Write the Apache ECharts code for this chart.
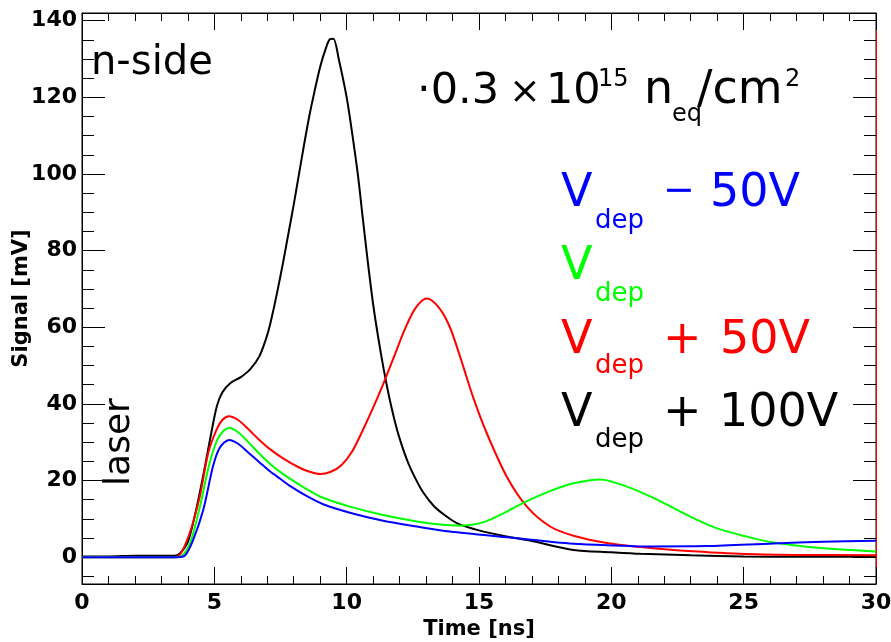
<!DOCTYPE html>
<html><head><meta charset="utf-8">
<script src="https://cdn.jsdelivr.net/npm/echarts@6/dist/echarts.min.js"></script>
<style>html,body{margin:0;padding:0;background:#fff}#c{width:891px;height:642px}</style>
</head><body><div id="c"></div>
<script>
// ---- data (time [ns], signal [mV]) ----
const xTicks = [0, 5, 10, 15, 20, 25, 30];
const yTicks = [0, 20, 40, 60, 80, 100, 120, 140];
const yMinorTicks = [-5, 5, 10, 15, 25, 30, 35, 45, 50, 55, 65, 70, 75, 85, 90, 95, 105, 110, 115, 125, 130, 135];

const vdepPlus100 = [[0,0.2],[1,0.2],[2,0.4],[3,0.4],[3.5,0.4],[3.7,1],[4.0,4],[4.3,12],[4.6,22],[4.9,33],[5.1,39.5],[5.3,43],[5.6,45.4],[6.0,47],[6.35,49],[6.7,52.4],[7.0,58],[7.2,63.5],[7.4,70],[7.6,77],[7.8,84.5],[8.0,92],[8.2,100],[8.4,108],[8.6,115.5],[8.8,122],[9.0,128],[9.2,132.5],[9.37,135.2],[9.5,135.3],[9.7,130],[10.0,120],[10.2,111],[10.42,100],[10.6,89],[10.8,77],[11.0,66],[11.2,57],[11.4,49],[11.6,42],[11.8,36],[12.0,31],[12.3,25],[12.6,20.5],[12.9,16.8],[13.3,13.3],[13.7,11],[14.16,8.9],[15,7],[16.05,5.4],[17,4.2],[18.57,1.9],[20,1.3],[21.1,0.9],[23,0.5],[25,0.2],[27,0.1],[30,0.1]];
const vdepPlus50 = [[0,0],[3.5,0],[3.7,0.6],[4.07,6.3],[4.45,15.8],[4.77,27.2],[5.08,33.2],[5.3,35.8],[5.55,36.8],[5.9,35.8],[6.3,33.3],[6.7,30.6],[7.1,28.2],[7.6,25.8],[8.2,23.4],[8.6,22.3],[9.0,21.7],[9.4,22.3],[9.8,24],[10.2,27.5],[10.6,33],[11.0,39],[11.4,45.5],[11.8,52.5],[12.2,59.5],[12.6,65],[13.03,67.5],[13.5,65],[13.9,60],[14.3,52],[14.79,41.5],[15.29,32.4],[16.05,21],[16.81,13.2],[17.69,8],[18.57,5.6],[19.83,3.7],[21,2.7],[22.35,1.9],[24.87,0.9],[27,0.6],[30,0.5]];
const vdep = [[0,0],[3.5,0],[3.8,0.5],[4.1,4],[4.45,13],[4.8,24],[5.1,30.5],[5.35,33],[5.56,33.7],[5.9,32.6],[6.3,29.9],[6.7,27],[7.1,24.4],[7.5,22.2],[7.9,20.3],[8.5,17.7],[9.11,15.5],[10.12,13.2],[11.38,11],[12.65,9.3],[13.53,8.5],[14.3,8.2],[14.79,8.5],[15.2,9.2],[15.67,10.6],[16.3,12.8],[16.93,15],[17.7,17.3],[18.57,19.3],[19.58,20.3],[20.59,18.4],[21.73,15],[22.98,10.6],[24,7.5],[24.87,5.8],[26.13,3.8],[28.03,2.3],[30,1.5]];
const vdepMinus50 = [[0,0],[3.6,0],[3.9,0.5],[4.2,4.5],[4.58,12.3],[4.95,23.7],[5.2,28.5],[5.56,30.6],[5.9,29.6],[6.3,27.2],[6.7,24.8],[7.1,22.4],[7.5,20.4],[7.9,18.4],[8.5,15.9],[9.11,13.8],[10.12,11.6],[11.38,9.5],[12.65,8],[13.9,6.7],[16.05,5.2],[18.57,3.5],[20.5,3],[21.1,2.8],[23.6,2.9],[26.13,3.6],[28,4],[30,4.3]];

const seriesNames = ['Vdep + 100V', 'Vdep + 50V', 'Vdep', 'Vdep - 50V'];
const seriesColors = ['#000000', '#ff0000', '#00ff00', '#0000ff'];
const seriesData = [vdepPlus100, vdepPlus50, vdep, vdepMinus50];

const FONT = 'DejaVu Sans';
const chart = echarts.init(document.getElementById('c'), null, {renderer: 'canvas'});

function tickAxisX(pos, showLabel) {
  return {
    type: 'value', min: 0, max: 30, interval: 5, position: pos,
    axisLine: {show: true, onZero: false, lineStyle: {color: '#000', width: 1}},
    axisTick: {show: true, inside: true, length: 17, lineStyle: {color: '#000', width: 1}},
    minorTick: {show: true, splitNumber: 5, length: 8, lineStyle: {color: '#000', width: 1}},
    splitLine: {show: false},
    axisLabel: {show: showLabel, customValues: xTicks, fontFamily: FONT, fontWeight: 'bold', fontSize: 22, color: '#000', margin: 8},
    name: showLabel ? 'Time [ns]' : '',
    nameLocation: 'middle', nameGap: 34,
    nameTextStyle: {fontFamily: FONT, fontWeight: 'bold', fontSize: 21, color: '#000'}
  };
}
function tickAxisY(pos, major, lineColor) {
  return {
    type: 'value', min: -7, max: 142, position: pos, offset: 0,
    axisLine: {show: major, onZero: false, lineStyle: {color: lineColor, width: 1}},
    axisTick: {show: true, inside: true, length: major ? 23 : 12, customValues: major ? yTicks : yMinorTicks, lineStyle: {color: '#000', width: 1}},
    minorTick: {show: false},
    splitLine: {show: false},
    axisLabel: {show: major && pos === 'left', customValues: yTicks, fontFamily: FONT, fontWeight: 'bold', fontSize: 22, color: '#000', margin: 5},
    name: (major && pos === 'left') ? 'Signal [mV]' : '',
    nameLocation: 'middle', nameGap: 50, nameRotate: 90, nameMoveOverlap: false,
    nameTextStyle: {fontFamily: FONT, fontWeight: 'bold', fontSize: 21, color: '#000'}
  };
}

const texts = [
  {t: 'n-side', x: 91, y: 64, fs: 40, c: '#000'},
  {t: '\u00b70.3', x: 417, y: 92, fs: 43, c: '#000'},
  {t: '\u00d7', x: 509, y: 93, fs: 38, c: '#000'},
  {t: '10', x: 546, y: 92, fs: 43, c: '#000'},
  {t: '15', x: 598, y: 80, fs: 24, c: '#000'},
  {t: 'n', x: 644, y: 91, fs: 46, c: '#000'},
  {t: 'eq', x: 672, y: 115, fs: 24, c: '#000'},
  {t: '/cm', x: 697, y: 91, fs: 46, c: '#000'},
  {t: '2', x: 785, y: 80, fs: 24, c: '#000'},
  {t: 'V', x: 561, y: 194, fs: 46, c: '#0000ff'},
  {t: 'dep', x: 595, y: 221, fs: 26, c: '#0000ff'},
  {t: '\u2212', x: 663, y: 192, fs: 38, c: '#0000ff'},
  {t: '50V', x: 710, y: 194, fs: 46, c: '#0000ff'},
  {t: 'V', x: 561, y: 267, fs: 46, c: '#00ff00'},
  {t: 'dep', x: 595, y: 294, fs: 26, c: '#00ff00'},
  {t: 'V', x: 561, y: 341, fs: 46, c: '#ff0000'},
  {t: 'dep', x: 595, y: 366, fs: 26, c: '#ff0000'},
  {t: '+', x: 663, y: 341, fs: 46, c: '#ff0000'},
  {t: '50V', x: 720, y: 341, fs: 46, c: '#ff0000'},
  {t: 'V', x: 561, y: 414, fs: 46, c: '#000'},
  {t: 'dep', x: 595, y: 440, fs: 26, c: '#000'},
  {t: '+', x: 663, y: 414, fs: 46, c: '#000'},
  {t: '100V', x: 719, y: 414, fs: 46, c: '#000'}
];

const graphic = texts.map(o => ({
  type: 'text', x: o.x, y: o.y, z: 100,
  style: {text: o.t, fontFamily: FONT, fontSize: o.fs, fill: o.c, align: 'left', verticalAlign: 'middle'}
}));
graphic.push({
  type: 'text', x: 120, y: 442, rotation: Math.PI / 2, z: 100,
  style: {text: 'laser', fontFamily: FONT, fontSize: 36, fill: '#000', align: 'center', verticalAlign: 'middle'}
});

chart.setOption({
  animation: false,
  backgroundColor: '#fff',
  grid: {left: 82, right: 15, top: 13, bottom: 58, containLabel: false, outerBoundsMode: 'none',
         show: true, borderColor: '#000', borderWidth: 1, backgroundColor: 'transparent'},
  xAxis: [tickAxisX('bottom', true), tickAxisX('top', false)],
  yAxis: [tickAxisY('left', true, '#000'), tickAxisY('left', false, '#000'),
          tickAxisY('right', true, '#ff0000'), tickAxisY('right', false, '#000')],
  series: seriesData.map((d, i) => ({
    name: seriesNames[i], type: 'line', data: d, xAxisIndex: 0, yAxisIndex: 0,
    showSymbol: false, smooth: 0.3, clip: true,
    lineStyle: {color: seriesColors[i], width: 2}, itemStyle: {color: seriesColors[i]}
  })),
  graphic: graphic
});
</script>
</body></html>
